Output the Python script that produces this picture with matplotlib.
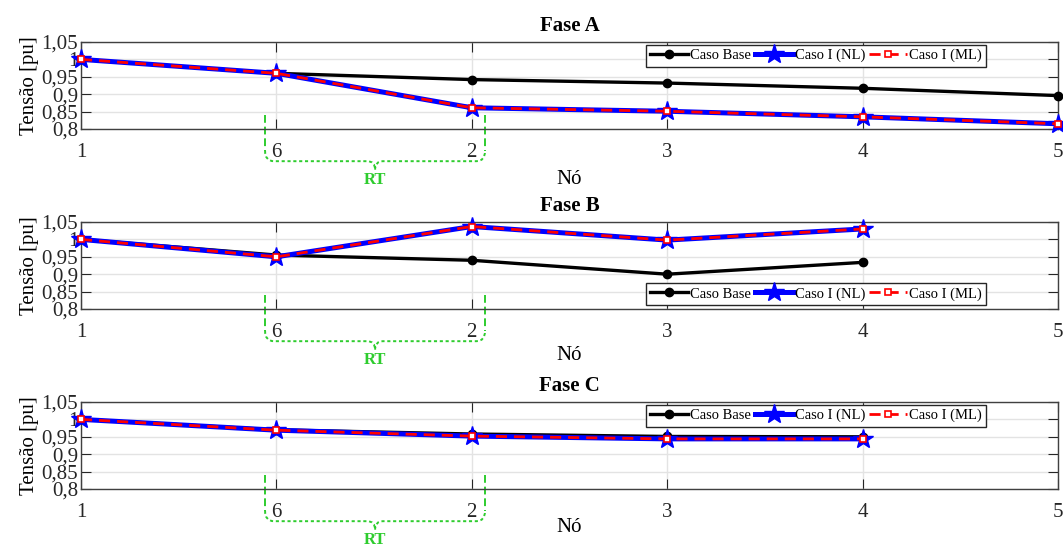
import matplotlib
matplotlib.use('Agg')
import matplotlib.pyplot as plt
import numpy as np
from matplotlib.path import Path
from matplotlib.patches import PathPatch
from matplotlib.ticker import FuncFormatter
from matplotlib.transforms import blended_transform_factory

plt.rcParams['font.family'] = ['Liberation Serif', 'DejaVu Serif']

# nós na ordem do alimentador
nos = ['1', '6', '2', '3', '4', '5']

fases = ['Fase A', 'Fase B', 'Fase C']

base_a = [1.000, 0.960, 0.942, 0.932, 0.917, 0.896]
nl_a = [1.000, 0.960, 0.861, 0.851, 0.835, 0.815]
ml_a = [1.000, 0.960, 0.861, 0.851, 0.835, 0.815]

base_b = [1.000, 0.955, 0.940, 0.900, 0.934]
nl_b = [1.000, 0.950, 1.037, 0.998, 1.030]
ml_b = [1.000, 0.950, 1.037, 0.998, 1.030]

base_c = [1.000, 0.970, 0.958, 0.951, 0.950]
nl_c = [1.000, 0.969, 0.952, 0.944, 0.944]
ml_c = [1.000, 0.969, 0.952, 0.944, 0.944]

series = [(base_a, nl_a, ml_a), (base_b, nl_b, ml_b), (base_c, nl_c, ml_c)]
legend_loc = ['upper', 'lower', 'upper']

verde = '#2ecc2e'


def virgula(v, pos):
    return ('%g' % round(v, 2)).replace('.', ',')


def chave_rt(ax):
    # chave verde indicando o regulador de tensão entre os nós 6 e 2
    tr = blended_transform_factory(ax.transData, ax.transAxes)
    x0, x1, xm = 0.942, 2.068, 1.505
    yt, yb, ytip = 0.16, -0.37, -0.47
    rx, ry = 0.045, 0.12
    ax.plot([x0, x0], [yt, yb + ry], ls=(0, (4, 2)), color=verde, lw=1.4,
            transform=tr, clip_on=False)
    ax.plot([x1, x1], [yt, yb + ry], ls=(0, (4, 2)), color=verde, lw=1.4,
            transform=tr, clip_on=False)
    verts = [(x0, yb + ry), (x0, yb), (x0 + rx, yb),
             (xm - 0.04, yb), (xm, yb), (xm, ytip),
             (xm, yb), (xm + 0.04, yb),
             (x1 - rx, yb), (x1, yb), (x1, yb + ry)]
    codes = [Path.MOVETO, Path.CURVE3, Path.CURVE3,
             Path.LINETO, Path.CURVE3, Path.CURVE3,
             Path.CURVE3, Path.CURVE3,
             Path.LINETO, Path.CURVE3, Path.CURVE3]
    p = PathPatch(Path(verts, codes), fill=False, edgecolor=verde, lw=1.4,
                  ls=(0, (1.6, 1.4)), transform=tr, clip_on=False)
    ax.add_patch(p)
    ax.text(xm, -0.59, 'RT', color=verde, fontsize=12, fontweight='bold',
            ha='center', va='center', transform=tr)


fig = plt.figure(figsize=(10.63, 5.47), dpi=100)
tops = [42, 222, 402]
labelpads = [6, 3, -3]

for i in range(3):
    top = tops[i]
    ax = fig.add_axes([81 / 1063, 1 - (top + 87) / 547, 977 / 1063, 87 / 547])
    base, nl, ml = series[i]
    x = np.arange(len(base))

    ax.plot(x, base, '-o', color='k', lw=2.4, ms=6, clip_on=False,
            label='Caso Base', zorder=3)
    ax.plot(x, nl, '-*', color='#0000ff', lw=3.6, ms=15, clip_on=False,
            label='Caso I (NL)', zorder=4)
    ax.plot(x, ml, '--s', color='#ff0000', lw=2.0, ms=4, mfc='white',
            mec='#ff0000', mew=1.2, dashes=(4, 2.5), clip_on=False,
            label='Caso I (ML)', zorder=5)

    ax.set_xlim(0, 5)
    ax.set_ylim(0.8, 1.05)
    ax.set_xticks(np.arange(len(nos)))
    ax.set_xticklabels(nos)
    ax.set_yticks(np.arange(0.8, 1.051, 0.05))
    ax.yaxis.set_major_formatter(FuncFormatter(virgula))
    ax.tick_params(direction='in', length=7, width=0.8, colors='#262626',
                   labelsize=15, top=True, right=True, pad=4)
    ax.tick_params(axis='y', labelsize=15, pad=2)
    ax.tick_params(axis='x', pad=10)
    for lbl in ax.get_xticklabels() + ax.get_yticklabels():
        lbl.set_color('#262626')
    ax.grid(True, color='#e3e3e3', lw=1.0)
    ax.set_axisbelow(True)
    for s in ax.spines.values():
        s.set_color('#404040')
        s.set_linewidth(1.0)

    ax.set_title(fases[i], fontsize=15, fontweight='bold', pad=8)
    ax.set_xlabel('Nó', fontsize=15, labelpad=labelpads[i])
    ax.set_ylabel('Tensão [pu]', fontsize=15, labelpad=2)

    if legend_loc[i] == 'upper':
        leg = ax.legend(loc='upper center', bbox_to_anchor=(0.7525, 0.97),
                        ncol=3, fontsize=10.5, handlelength=2.6,
                        columnspacing=0.25, handletextpad=0.15,
                        borderpad=0.3, borderaxespad=0, fancybox=False,
                        framealpha=1, edgecolor='#262626')
    else:
        leg = ax.legend(loc='lower center', bbox_to_anchor=(0.7525, 0.045),
                        ncol=3, fontsize=10.5, handlelength=2.6,
                        columnspacing=0.25, handletextpad=0.15,
                        borderpad=0.3, borderaxespad=0, fancybox=False,
                        framealpha=1, edgecolor='#262626')
    leg.get_frame().set_linewidth(1.0)
    leg.set_zorder(10)

    chave_rt(ax)

fig.savefig('out.png', dpi=100)
